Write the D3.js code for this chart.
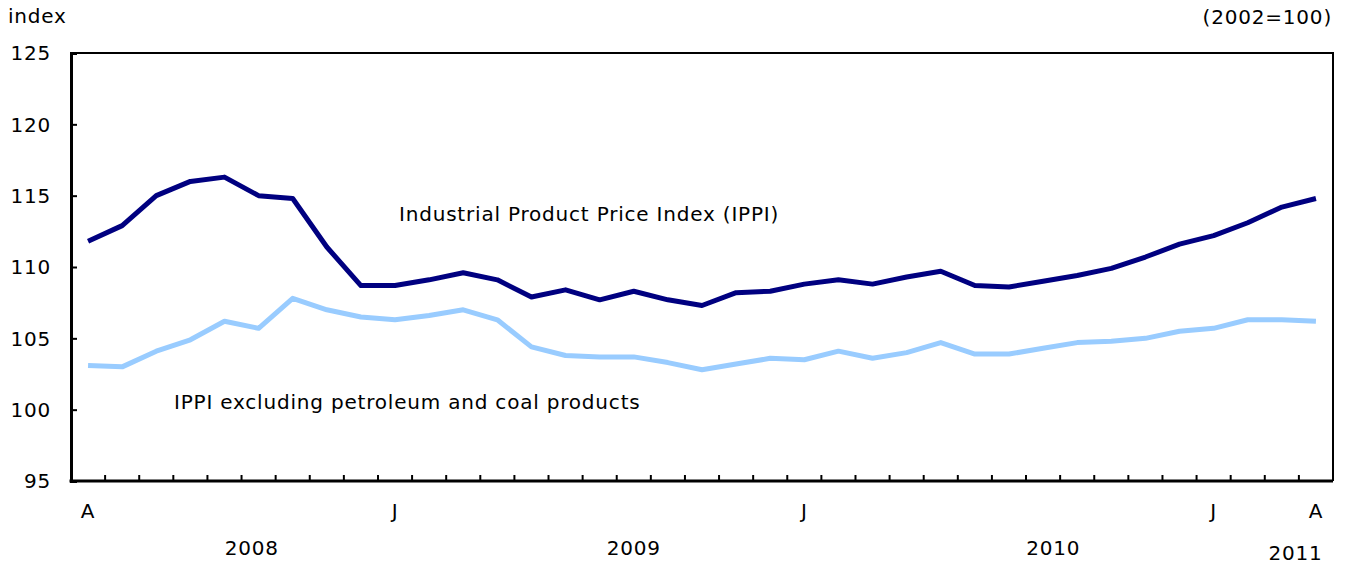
<!DOCTYPE html>
<html>
<head>
<meta charset="utf-8">
<script src="https://cdn.jsdelivr.net/npm/d3@7"></script>
<style>
  body { margin: 0; background: #fff; }
  text { font-family: "DejaVu Sans", Verdana, sans-serif; fill: #000; font-size: 20px; letter-spacing: 0.8px; }
</style>
</head>
<body>
<script>
// months April 2008 .. April 2011
const months = ['A','M','J','J','A','S','O','N','D',
  'J','F','M','A','M','J','J','A','S','O','N','D',
  'J','F','M','A','M','J','J','A','S','O','N','D',
  'J','F','M','A'];
const ippi = [111.8, 112.9, 115.0, 116.0, 116.3, 115.0, 114.8, 111.4, 108.7,
  108.7, 109.1, 109.6, 109.1, 107.9, 108.4, 107.7, 108.3, 107.7, 107.3, 108.2, 108.3,
  108.8, 109.1, 108.8, 109.3, 109.7, 108.7, 108.6, 109.0, 109.4, 109.9, 110.7, 111.6,
  112.2, 113.1, 114.2, 114.8];
const ippiExPetro = [103.1, 103.0, 104.1, 104.9, 106.2, 105.7, 107.8, 107.0, 106.5,
  106.3, 106.6, 107.0, 106.3, 104.4, 103.8, 103.7, 103.7, 103.3, 102.8, 103.2, 103.6,
  103.5, 104.1, 103.6, 104.0, 104.7, 103.9, 103.9, 104.3, 104.7, 104.8, 105.0, 105.5,
  105.7, 106.3, 106.3, 106.2];
const yTicks = [95, 100, 105, 110, 115, 120, 125];
const labelledMonths = [0, 9, 21, 33, 36];
const years = [['2008', 4.8], ['2009', 16.0], ['2010', 28.3], ['2011', 35.4]];

const width = 1348, height = 567;
const margin = {top: 53, right: 15, bottom: 86, left: 71};

const svg = d3.select('body').append('svg')
  .attr('width', width)
  .attr('height', height);

// month i sits in the middle of its slot
const x = d3.scaleLinear()
  .domain([-0.5, months.length - 0.5])
  .range([margin.left, width - margin.right]);

const y = d3.scaleLinear()
  .domain([95, 125])
  .range([height - margin.bottom, margin.top]);

// frame top/right
svg.append('path')
  .attr('d', `M${margin.left},${margin.top}H${width - margin.right}V${height - margin.bottom}`)
  .attr('fill', 'none')
  .attr('stroke', '#000')
  .attr('stroke-width', 2);

// y axis
const yAxis = svg.append('g')
  .attr('transform', `translate(${margin.left},0)`)
  .call(d3.axisRight(y).tickValues(yTicks).tickSize(6).tickFormat(''));
yAxis.select('.domain').attr('stroke-width', 3);
yAxis.selectAll('line').attr('stroke-width', 2);

svg.append('g').selectAll('text')
  .data(yTicks)
  .join('text')
  .attr('x', 51)
  .attr('y', d => y(d))
  .attr('dy', '0.36em')
  .attr('text-anchor', 'end')
  .text(d => d);

// x axis, ticks at month boundaries
const xBottom = height - margin.bottom;
svg.append('line')
  .attr('x1', margin.left - 1.5).attr('x2', width - margin.right)
  .attr('y1', xBottom).attr('y2', xBottom)
  .attr('stroke', '#000').attr('stroke-width', 3);
svg.append('g').selectAll('line')
  .data(d3.range(1, months.length))
  .join('line')
  .attr('x1', d => x(d - 0.5)).attr('x2', d => x(d - 0.5))
  .attr('y1', xBottom).attr('y2', xBottom - 6)
  .attr('stroke', '#000').attr('stroke-width', 2);

svg.append('g').selectAll('text')
  .data(labelledMonths)
  .join('text')
  .attr('x', d => x(d))
  .attr('y', 518)
  .attr('text-anchor', 'middle')
  .text(d => months[d]);

svg.append('g').selectAll('text')
  .data(years)
  .join('text')
  .attr('x', d => x(d[1]))
  .attr('y', d => d[0] === '2011' ? 560 : 555)
  .attr('text-anchor', 'middle')
  .text(d => d[0]);

// lines
const line = d3.line()
  .x((d, i) => x(i))
  .y(d => y(d));

svg.append('path')
  .datum(ippiExPetro)
  .attr('d', line)
  .attr('fill', 'none')
  .attr('stroke', '#99ccff')
  .attr('stroke-width', 5)
  .attr('stroke-linejoin', 'round');

svg.append('path')
  .datum(ippi)
  .attr('d', line)
  .attr('fill', 'none')
  .attr('stroke', '#000080')
  .attr('stroke-width', 5)
  .attr('stroke-linejoin', 'round');

// labels
svg.append('text').attr('x', 399).attr('y', 221)
  .text('Industrial Product Price Index (IPPI)');
svg.append('text').attr('x', 174).attr('y', 409)
  .text('IPPI excluding petroleum and coal products');

svg.append('text').attr('x', 8).attr('y', 23).text('index');
svg.append('text').attr('x', 1332).attr('y', 24)
  .attr('text-anchor', 'end').text('(2002=100)');
</script>
</body>
</html>
